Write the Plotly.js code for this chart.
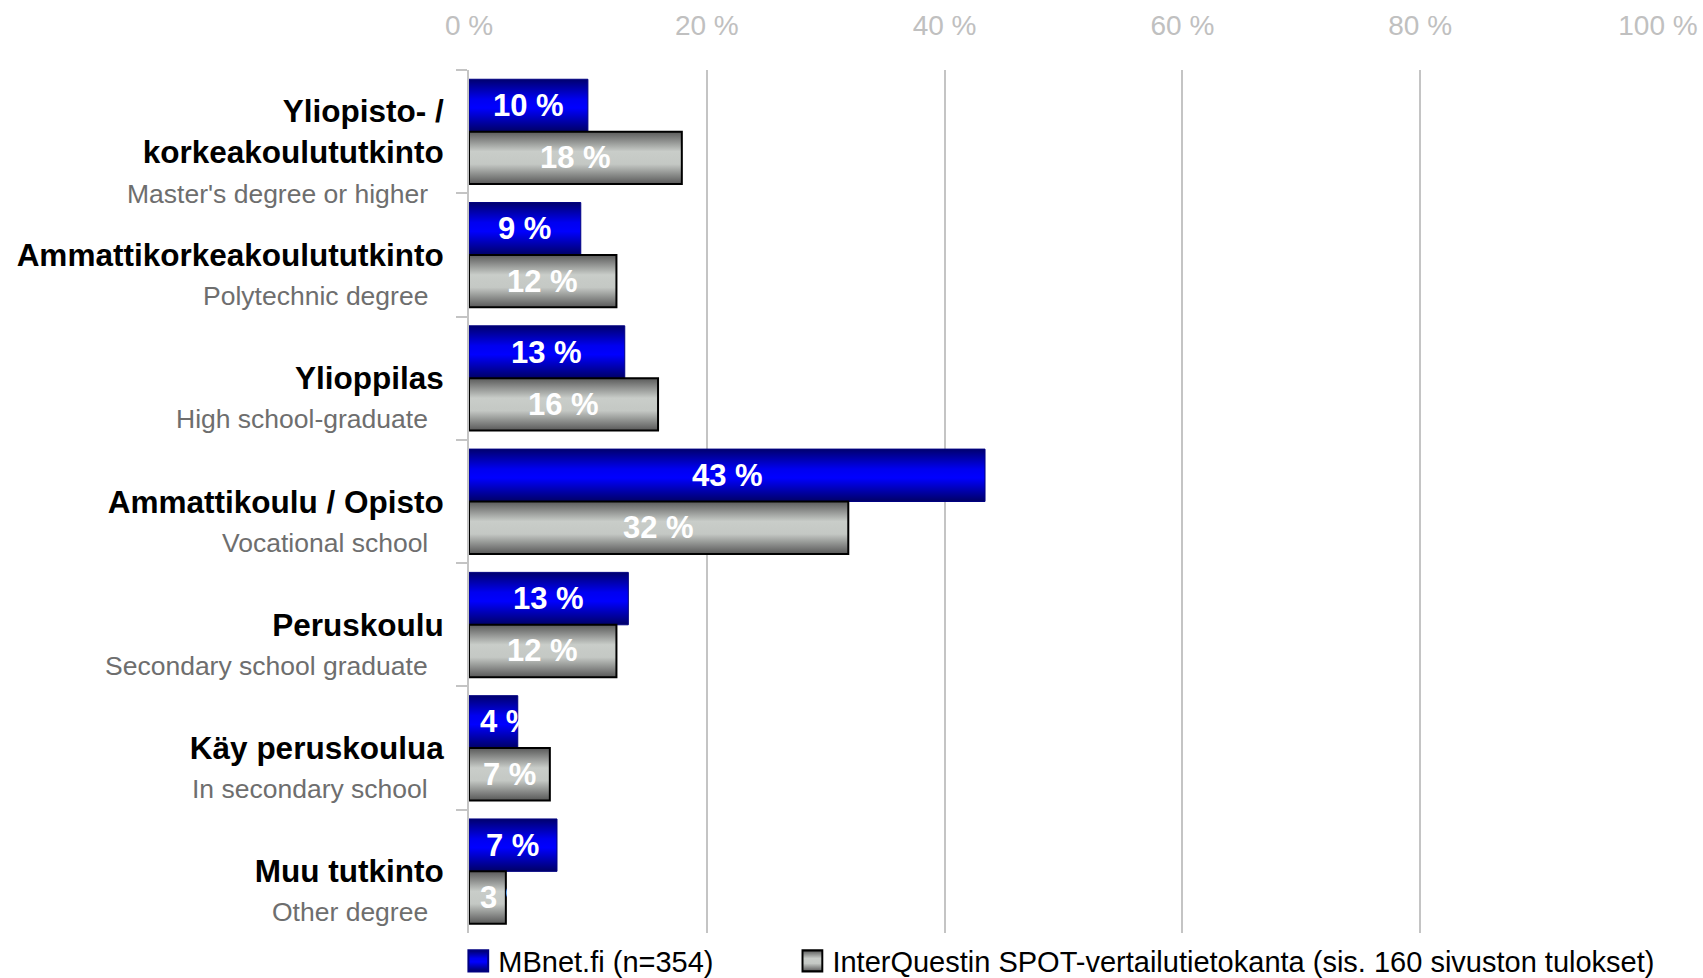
<!DOCTYPE html>
<html>
<head>
<meta charset="utf-8">
<script src="https://cdn.plot.ly/plotly-3.0.1.min.js"></script>
<style>
html,body{margin:0;padding:0;background:#fff;}
#chart{width:1703px;height:978px;}
</style>
</head>
<body>
<div id="chart"></div>
<script>
// ---- data ----
var categories = [
  "Yliopisto- /<br>korkeakoulututkinto",
  "Ammattikorkeakoulututkinto",
  "Ylioppilas",
  "Ammattikoulu / Opisto",
  "Peruskoulu",
  "Käy peruskoulua",
  "Muu tutkinto"
];
var subtitles = [
  "Master's degree or higher",
  "Polytechnic degree",
  "High school-graduate",
  "Vocational school",
  "Secondary school graduate",
  "In secondary school",
  "Other degree"
];
var mbnetValues = [10.0, 9.4, 13.1, 43.4, 13.4, 4.1, 7.4];
var spotValues  = [17.9, 12.4, 15.9, 31.9, 12.4, 6.8, 3.1];
var seriesNames = ["MBnet.fi (n=354)", "InterQuestin SPOT-vertailutietokanta (sis. 160 sivuston tulokset)"];
var xTickVals = [0, 20, 40, 60, 80, 100];
var xTickText = ["0 %", "20 %", "40 %", "60 %", "80 %", "100 %"];

// ---- styling ----
var FONT = "Liberation Sans, Arial, sans-serif";
var BARGAP = 0.15;
var margin = {l: 469, r: 45, t: 70, b: 45, autoexpand: false};
var plotW = 1703 - margin.l - margin.r;

function pct(v){ return Math.round(v) + " %"; }

var traces = [
  {
    type: "bar", orientation: "h", name: seriesNames[0], legend: "legend",
    y: categories, x: mbnetValues,
    marker: {color: "#0000e6", line: {color: "#000080", width: 1}},
    textposition: "none", hoverinfo: "skip"
  },
  {
    type: "bar", orientation: "h", name: seriesNames[1], legend: "legend2",
    y: categories, x: spotValues,
    marker: {color: "#a8aca8", line: {color: "#000000", width: 2}},
    textposition: "none", hoverinfo: "skip"
  }
];

var annotations = [];
var off = (1 - BARGAP) / 4;
function addLabels(values, sign){
  values.forEach(function(v, i){
    var txt = pct(v);
    var estW = txt.length * 18;
    var barPx = v / 100 * plotW;
    var a = {
      xref: "x", yref: "y", y: i + sign * off, text: "<b>" + txt + "</b>",
      showarrow: false, font: {family: FONT, size: 31, color: "#ffffff"},
      yanchor: "middle"
    };
    if (barPx < estW + 18) { a.x = 0; a.xanchor = "left"; a.xshift = 9; }
    else { a.x = v / 2; a.xanchor = "center"; }
    annotations.push(a);
  });
}
addLabels(mbnetValues, -1);
addLabels(spotValues, 1);

subtitles.forEach(function(s, i){
  var lines = categories[i].split("<br>").length;
  annotations.push({
    xref: "paper", yref: "y", x: 0, y: i, xanchor: "right", yanchor: "middle",
    xshift: -39, yshift: lines > 1 ? -62 : -41,
    text: s, showarrow: false,
    font: {family: FONT, size: 26.5, color: "#6e6e6e"}
  });
});

var legendBase = {
  orientation: "h", xanchor: "left", y: -0.0325, yanchor: "middle",
  font: {family: FONT, size: 29, color: "#000000"},
  bgcolor: "rgba(0,0,0,0)", borderwidth: 0
};

var layout = {
  width: 1703, height: 978,
  margin: margin,
  paper_bgcolor: "#ffffff", plot_bgcolor: "#ffffff",
  barmode: "group", bargap: BARGAP, bargroupgap: 0,
  font: {family: FONT},
  showlegend: true,
  legend: Object.assign({}, legendBase, {x: -0.009}),
  legend2: Object.assign({}, legendBase, {x: 0.272}),
  xaxis: {
    range: [0, 100], side: "top", tickvals: xTickVals, ticktext: xTickText,
    tickfont: {family: FONT, size: 28, color: "#c0c0c0"},
    showgrid: true, gridcolor: "#c4c4c4", gridwidth: 2,
    zeroline: false, showline: false, ticks: "", ticklabelstandoff: 28,
    fixedrange: true
  },
  yaxis: {
    type: "category", range: [categories.length - 0.5, -0.5], autorange: false,
    tickson: "boundaries", ticks: "outside", ticklen: 11, tickwidth: 2, tickcolor: "#c4c4c4",
    showline: true, linecolor: "#c4c4c4", linewidth: 2,
    showgrid: false, zeroline: false,
    tickfont: {family: FONT, size: 31.5, color: "#000000", weight: "bold"},
    ticklabelstandoff: 17, fixedrange: true
  },
  annotations: annotations
};

function applyGradients(gd){
  var svgNS = "http://www.w3.org/2000/svg";
  var defs = gd.querySelector("svg.main-svg defs");
  if (!defs) return;
  function grad(id, stops){
    var g = document.createElementNS(svgNS, "linearGradient");
    g.setAttribute("id", id);
    g.setAttribute("x1", "0"); g.setAttribute("y1", "0");
    g.setAttribute("x2", "0"); g.setAttribute("y2", "1");
    stops.forEach(function(s){
      var st = document.createElementNS(svgNS, "stop");
      st.setAttribute("offset", s[0]);
      st.setAttribute("stop-color", s[1]);
      g.appendChild(st);
    });
    defs.appendChild(g);
  }
  grad("gradBlue", [[0, "#00006e"], [0.38, "#0000f0"], [0.55, "#0000ff"], [1, "#000066"]]);
  grad("gradGray", [[0, "#5a5a5a"], [0.38, "#c9cdc9"], [0.62, "#c4c8c4"], [1, "#585858"]]);
  var ids = ["url(#gradBlue)", "url(#gradGray)"];
  var bt = gd.querySelectorAll(".barlayer .trace");
  bt.forEach(function(t, i){
    t.querySelectorAll("path").forEach(function(p){ p.style.fill = ids[i]; });
  });
  var legends = [gd.querySelector(".legend"), gd.querySelector(".legend2")];
  legends.forEach(function(lg, i){
    if (!lg) return;
    lg.querySelectorAll(".legendpoints path").forEach(function(p){
      p.style.fill = ids[i];
      var tr = p.getAttribute("transform") || "";
      p.setAttribute("transform", tr + " scale(1.65,1.75)");
      p.style.strokeWidth = "1.2px";
    });
  });
}

Plotly.newPlot("chart", traces, layout, {staticPlot: true, displayModeBar: false})
  .then(function(gd){ applyGradients(gd); });
</script>
</body>
</html>
